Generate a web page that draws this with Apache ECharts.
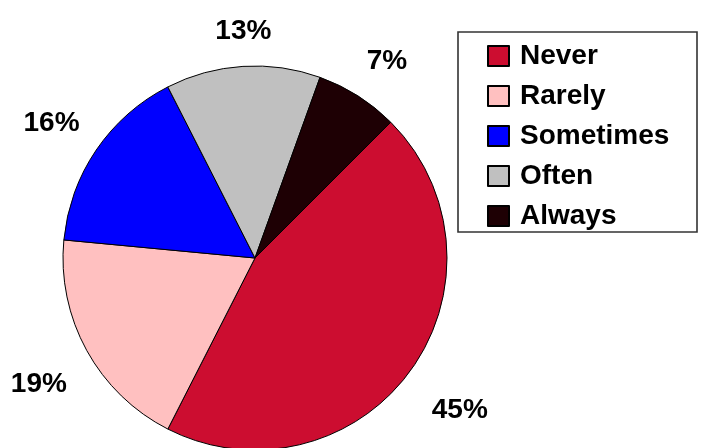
<!DOCTYPE html>
<html>
<head>
<meta charset="utf-8">
<script src="https://cdn.jsdelivr.net/npm/echarts@6/dist/echarts.min.js"></script>
<style>
html,body{margin:0;padding:0;background:#fff;}
#chart{width:701px;height:448px;}
</style>
</head>
<body>
<div id="chart"></div>
<script>
var categories = ['Never', 'Rarely', 'Sometimes', 'Often', 'Always'];
var values = [45, 19, 16, 13, 7];
var colors = ['#CC0D30', '#FFC0C0', '#0000FF', '#C0C0C0', '#1E0004'];

var CX = 255, CY = 258, R = 192, START = 45; // start: degrees clockwise from 12 o'clock
var total = values.reduce(function (a, b) { return a + b; }, 0);
function midAngle(i) {
  var cum = 0;
  for (var k = 0; k < i; k++) cum += values[k];
  return (START + (cum + values[i] / 2) / total * 360) * Math.PI / 180;
}

var chart = echarts.init(document.getElementById('chart'), null, {renderer: 'canvas'});
var FONT = "'Liberation Sans', Arial, sans-serif";

chart.setOption({
  animation: false,
  backgroundColor: '#ffffff',
  color: colors,
  graphic: [{
    type: 'rect',
    shape: {x: 458, y: 32, width: 239, height: 200},
    style: {fill: 'none', stroke: '#333', lineWidth: 1.6},
    silent: true
  }],
  legend: {
    orient: 'vertical',
    left: 487,
    top: 42,
    padding: 0,
    itemWidth: 21,
    itemHeight: 20,
    itemGap: 12,
    icon: 'rect',
    data: categories,
    textStyle: {
      fontFamily: FONT,
      fontSize: 28,
      fontWeight: 'bold',
      color: '#000',
      lineHeight: 28,
      padding: [0, 0, 0, 6]
    }
  },
  series: [{
    type: 'pie',
    center: [CX, CY],
    radius: R,
    startAngle: 90 - START,
    clockwise: true,
    avoidLabelOverlap: false,
    itemStyle: {borderColor: '#000', borderWidth: 1},
    emphasis: {disabled: true},
    label: {
      show: true,
      position: 'inside',
      rotate: 0,
      formatter: '{c}%',
      fontFamily: FONT,
      fontSize: 28,
      fontWeight: 'bold',
      color: '#000'
    },
    labelLine: {show: false},
    labelLayout: function (p) {
      var a = midAngle(p.dataIndex);
      var sx = Math.sin(a), cy = -Math.cos(a);
      var hw = p.labelRect.width / 2, hh = 11.5;
      var d = R + 28 + hw * Math.abs(sx) + hh * Math.abs(cy);
      return {
        x: CX + d * sx + 3,
        y: CY + d * cy + 6,
        align: 'center',
        verticalAlign: 'middle'
      };
    },
    data: categories.map(function (c, i) { return {name: c, value: values[i]}; })
  }]
});
</script>
</body>
</html>
